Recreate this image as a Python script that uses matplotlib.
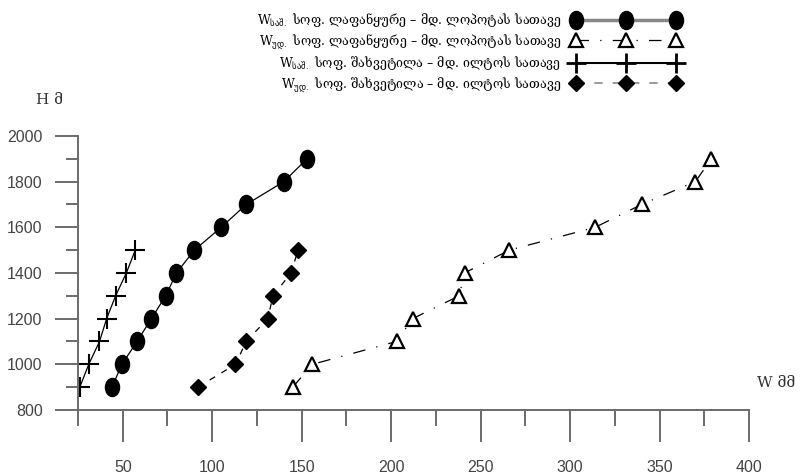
import matplotlib
matplotlib.use("Agg")
import matplotlib.pyplot as plt
from matplotlib.lines import Line2D
from matplotlib.path import Path
import numpy as np

# W (mm) vs H (m)
h_lap_avg = [900, 1000, 1100, 1200, 1300, 1400, 1500, 1600, 1700, 1800, 1900]
w_lap_avg = [44, 49.5, 58, 66, 74, 80, 90, 105, 119, 140, 153]

h_lap_max = [900, 1000, 1100, 1200, 1300, 1400, 1500, 1600, 1700, 1800, 1900]
w_lap_max = [145, 156, 203, 212, 238, 241, 266, 314, 340, 370, 379]

h_sha_avg = [900, 1000, 1100, 1200, 1300, 1400, 1500]
w_sha_avg = [26, 31, 37, 41, 46, 52, 57]

h_sha_max = [900, 1000, 1100, 1200, 1300, 1400, 1500]
w_sha_max = [92, 113, 119, 131, 134, 144, 148]

x_major = [50, 100, 150, 200, 250, 300, 350, 400]
x_minor = [25, 75, 125, 175, 225, 275, 325, 375]
y_major = [800, 1000, 1200, 1400, 1600, 1800, 2000]
y_minor = [900, 1100, 1300, 1500, 1700, 1900]

labels = [
    r"W$_{\mathrm{საშ.}}$ სოფ. ლაფანყურე – მდ. ლოპოტას სათავე",
    r"W$_{\mathrm{უდ.}}$ სოფ. ლაფანყურე – მდ. ლოპოტას სათავე",
    r"W$_{\mathrm{საშ.}}$ სოფ. შახვეტილა – მდ. ილტოს სათავე",
    r"W$_{\mathrm{უდ.}}$ სოფ. შახვეტილა – მდ. ილტოს სათავე",
]

serif = ["DejaVu Serif", "DejaVu Sans"]
axis_grey = "#6a6a6a"
label_grey = "#444444"

# tall ellipse marker
circ = Path.unit_circle()
ellipse = Path(circ.vertices * np.array([0.78, 1.0]), circ.codes)

fig = plt.figure(figsize=(8.01, 4.76), dpi=100)
ax = fig.add_axes([0.0974, 0.1387, 0.8377, 0.5756])

ax.plot(w_lap_avg, h_lap_avg, color="black", lw=0.9, marker=ellipse, ms=13,
        mfc="black", mec="black")
ax.plot(w_lap_max, h_lap_max, color="black", lw=0.9, dashes=[10, 9, 1, 9],
        marker="^", ms=10, mfc="white", mec="black", mew=1.6)
ax.plot(w_sha_avg, h_sha_avg, color="black", lw=0.9, marker="+", ms=14, mew=1.5)
ax.plot(w_sha_max, h_sha_max, color="black", lw=0.9, dashes=[5, 6],
        marker="D", ms=8, mfc="black", mec="black")

ax.set_xlim(25, 400)
ax.set_ylim(800, 2000)
ax.set_xticks(x_major)
ax.set_xticks(x_minor, minor=True)
ax.set_yticks(y_major)
ax.set_yticks(y_minor, minor=True)

for s in ["top", "right"]:
    ax.spines[s].set_visible(False)
for s in ["left", "bottom"]:
    ax.spines[s].set_color(axis_grey)
    ax.spines[s].set_linewidth(1.4)

tick_font = ["Liberation Sans Narrow", "Liberation Sans", "DejaVu Sans"]
ax.tick_params(axis="x", which="major", length=23, width=1.4, color=axis_grey,
               pad=13, labelsize=11.5, labelcolor=label_grey)
ax.tick_params(axis="x", which="minor", length=11.5, width=1.4, color=axis_grey)
ax.tick_params(axis="y", which="major", length=16.5, width=1.4, color=axis_grey,
               pad=9, labelsize=11.5, labelcolor=label_grey)
ax.tick_params(axis="y", which="minor", length=8.5, width=1.4, color=axis_grey)
for t in ax.get_xticklabels() + ax.get_yticklabels():
    t.set_family(tick_font)

fig.text(0.045, 0.79, "H მ", family=serif, fontsize=11, color="#333333",
         ha="left", va="center")
fig.text(0.945, 0.195, "W მმ", family=serif, fontsize=11, color="#333333",
         ha="left", va="center")

# legend proxies (styles as in the original key)
handles = [
    Line2D([], [], color="#888888", lw=2.5, marker=ellipse, ms=13, mfc="black", mec="black"),
    Line2D([], [], color="black", lw=0.9, dashes=[10, 9, 1, 9], marker="^", ms=10,
           mfc="white", mec="black", mew=1.6),
    Line2D([], [], color="black", lw=1.5, marker="+", ms=14, mew=2),
    Line2D([], [], color="#888888", lw=1.2, dashes=[5, 6], marker="D", ms=8,
           mfc="black", mec="black"),
]
leg = ax.legend(handles, labels, loc="upper center", bbox_to_anchor=(0.585, 1.0),
                bbox_transform=fig.transFigure, frameon=False, markerfirst=False,
                numpoints=3, handlelength=8.6, handletextpad=0.9, labelspacing=0.25,
                prop={"family": serif, "size": 9})

fig.savefig("out.png", dpi=100)
